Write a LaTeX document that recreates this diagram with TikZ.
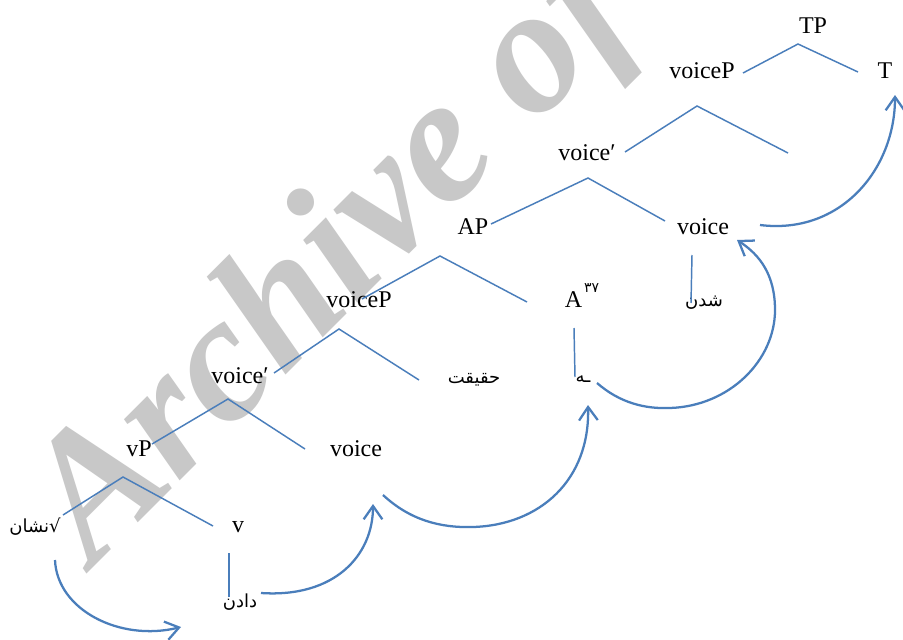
\documentclass[tikz,border=0pt]{standalone}
\usepackage{fontspec}
\setmainfont{Liberation Serif}
\newfontfamily\arabicfont[Script=Arabic]{DejaVu Sans}
\TeXXeTstate=1
\usetikzlibrary{arrows.meta}
\definecolor{treeblue}{RGB}{74,126,187}
\definecolor{wmgray}{RGB}{200,200,200}
\tikzset{
  lbl/.style={font=\fontsize{18}{20}\selectfont, inner sep=0pt, anchor=base},
  arlbl/.style={font=\arabicfont\fontsize{13.5}{15}\selectfont, inner sep=0pt, anchor=center},
  branch/.style={draw=treeblue, line width=1.1pt},
  mover/.style={draw=treeblue, line width=1.7pt, -{Straight Barb[length=10pt,width=14pt]}},
}
\begin{document}
\begin{tikzpicture}[x=0.75pt,y=-0.75pt]
\useasboundingbox (0,0) rectangle (903,639);
\fill[white] (0,0) rectangle (903,639);
% watermark
\begin{scope}
  \clip (0,0) rectangle (903,639);
  \node[rotate=45, anchor=base, text=wmgray, inner sep=0pt,
        font=\fontsize{135}{135}\selectfont\bfseries\itshape] (wm) at (367,294) {Archive of};
\end{scope}

% Latin labels
\node[lbl] (TP) at (813,33) {TP};
\node[lbl] (voicePtop) at (702,78) {voiceP};
\node[lbl] (T) at (885,78) {T};
\node[lbl] (voicebartop) at (587,160) {voice′};
\node[lbl] (voiceR) at (703,234) {voice};
\node[lbl] (AP) at (473,234) {AP};
\node[lbl] (voicePmid) at (359,307) {voiceP};
\node[lbl] (A) at (582,307) {A\hspace{1.5pt}\raisebox{1.3ex}{\arabicfont\fontsize{10.5}{12}\selectfont ۳۷}};
\node[lbl] (voicebarmid) at (240,383) {voice′};
\node[lbl] (vP) at (139,456) {vP};
\node[lbl] (voiceB) at (356,456) {voice};
\node[lbl] (v) at (238,532) {v};

% Arabic labels
\node[arlbl] (shodan) at (704,303) {\beginR شدن\endR};
\node[arlbl] (haghighat) at (474,380) {\beginR حقیقت\endR};
\node[arlbl] (heh) at (583,379) {\beginR ـه\endR};
\node[arlbl] (neshan) at (35,527) {\beginR √نشان\endR};
\node[arlbl] (dadan) at (240,602) {\beginR دادن\endR};

% branch coordinates
\coordinate (tpA) at (798,44);  \coordinate (tpL) at (743,73);  \coordinate (tpR) at (858,72);
\coordinate (vpA) at (697,106); \coordinate (vpL) at (625,152); \coordinate (vpR) at (788,153);
\coordinate (vbA) at (588,178); \coordinate (vbL) at (491,224); \coordinate (vbR) at (665,221);
\coordinate (apA) at (440,256); \coordinate (apL) at (362,299); \coordinate (apR) at (527,302);
\coordinate (vmA) at (339,329); \coordinate (vmL) at (274,373); \coordinate (vmR) at (419,380);
\coordinate (vcA) at (228,399); \coordinate (vcL) at (152,444); \coordinate (vcR) at (305,449);
\coordinate (lvA) at (123,477); \coordinate (lvL) at (63,515);  \coordinate (lvR) at (213,526);
\coordinate (vT) at (229,553);  \coordinate (vB) at (229,597);
\coordinate (aT) at (574,328);  \coordinate (aB) at (575,377);
\coordinate (sT) at (692,255);  \coordinate (sB) at (691,303);

\draw[branch] (tpL) -- (tpA) -- (tpR);
\draw[branch] (vpL) -- (vpA) -- (vpR);
\draw[branch] (vbL) -- (vbA) -- (vbR);
\draw[branch] (apL) -- (apA) -- (apR);
\draw[branch] (vmL) -- (vmA) -- (vmR);
\draw[branch] (vcL) -- (vcA) -- (vcR);
\draw[branch] (lvL) -- (lvA) -- (lvR);
\draw[branch] (vT) -- (vB);
\draw[branch] (aT) -- (aB);
\draw[branch] (sT) -- (sB);

% movement arrows
\coordinate (m1s) at (55,560);  \coordinate (m1e) at (181,627);
\coordinate (m2s) at (261,593); \coordinate (m2e) at (373,504);
\coordinate (m3s) at (383,495); \coordinate (m3m) at (473,527); \coordinate (m3e) at (588,405);
\coordinate (m4s) at (597,383); \coordinate (m4m) at (670,408); \coordinate (m4r) at (775,310); \coordinate (m4e) at (737,240);
\coordinate (m5s) at (760,225); \coordinate (m5e) at (895,95);

\draw[mover] (m1s) .. controls (57,610) and (120,642) .. (m1e);
\draw[mover] (m2s) .. controls (335,598) and (373,555) .. (m2e);
\draw[mover] (m3s) .. controls (410,520) and (440,528) .. (m3m) .. controls (540,525) and (590,480) .. (m3e);
\draw[mover] (m4s) .. controls (620,403) and (645,409) .. (m4m) .. controls (730,406) and (775,360) .. (m4r) .. controls (775,275) and (760,255) .. (m4e);
\draw[mover] (m5s) .. controls (840,235) and (895,170) .. (m5e);
\end{tikzpicture}
\end{document}
